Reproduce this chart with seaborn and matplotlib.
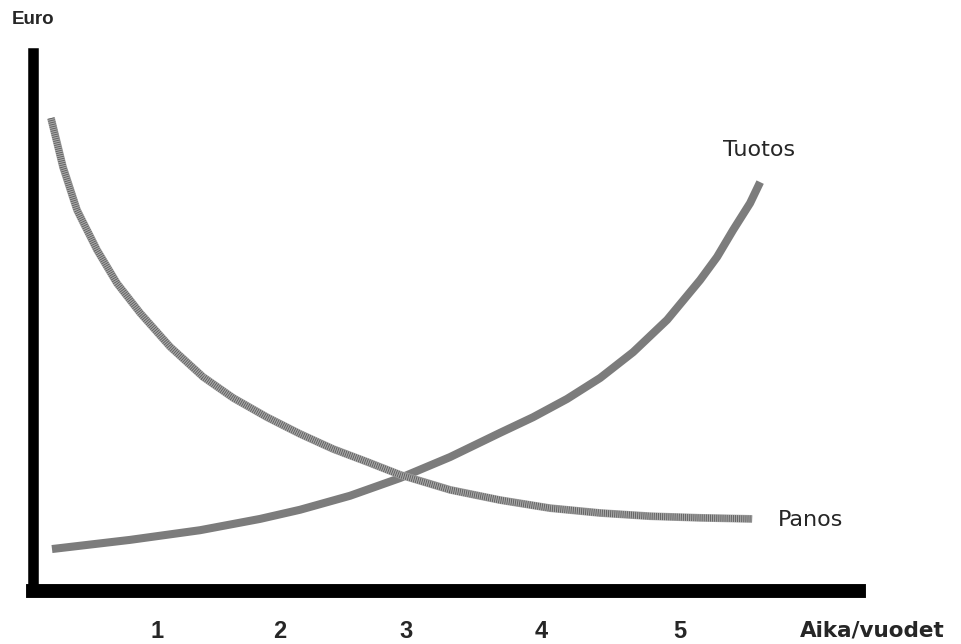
import pandas as pd
import seaborn as sns
import matplotlib.pyplot as plt

# Panos (input) curve: years vs euro (arbitrary 0-100 scale)
panos_x = [0.145, 0.242, 0.355, 0.516, 0.677, 0.863, 1.105, 1.371, 1.613, 1.887,
           2.153, 2.419, 2.694, 2.960, 3.363, 3.766, 4.169, 4.573, 4.976, 5.379, 5.798]
panos_y = [87.9, 78.8, 70.8, 63.4, 57.2, 51.7, 45.4, 39.8, 35.9, 32.3,
           29.2, 26.4, 24.0, 21.6, 18.8, 16.9, 15.4, 14.5, 13.9, 13.6, 13.4]

# Tuotos (output) curve
tuotos_x = [0.153, 0.782, 1.347, 1.831, 2.153, 2.556, 2.960, 3.363, 3.766, 4.032,
            4.306, 4.573, 4.839, 5.113, 5.379, 5.516, 5.645, 5.782, 5.863]
tuotos_y = [7.8, 9.5, 11.3, 13.4, 15.1, 17.7, 21.0, 24.9, 29.4, 32.3,
            35.7, 39.6, 44.4, 50.4, 57.8, 62.1, 67.1, 72.1, 76.0]

year_labels = ["1", "2", "3", "4", "5"]
year_pos = [1.0, 1.992, 3.008, 4.097, 5.218]

panos = pd.DataFrame({"Aika": panos_x, "Euro": panos_y})
tuotos = pd.DataFrame({"Aika": tuotos_x, "Euro": tuotos_y})

sns.set_style("white")
plt.rcParams['font.family'] = ['Liberation Sans', 'DejaVu Sans']
plt.rcParams['lines.scale_dashes'] = False

fig = plt.figure(figsize=(9.61, 6.44), dpi=100)
ax = fig.add_axes([33 / 961, 53 / 644, 826 / 961, 538 / 644])

# Tuotos: plain grey line
sns.lineplot(data=tuotos, x="Aika", y="Euro", sort=False, color="#7c7c7c",
             linewidth=5.8, ax=ax, solid_capstyle="butt", solid_joinstyle="round")

# Panos: grey line with a fine striped texture on top
sns.lineplot(data=panos, x="Aika", y="Euro", sort=False, color="#a8a8a8",
             linewidth=5.6, ax=ax, solid_capstyle="butt", solid_joinstyle="round")
sns.lineplot(data=panos, x="Aika", y="Euro", sort=False, color="#5a5a5a",
             linewidth=5.0, ax=ax)
ax.lines[-1].set_dashes((0.6, 0.9))
ax.lines[-1].set_dash_capstyle("butt")

ax.set_xlim(0, 6.66)
ax.set_ylim(0, 100)

for side in ["top", "right"]:
    ax.spines[side].set_visible(False)
ax.spines["left"].set_linewidth(7.6)
ax.spines["bottom"].set_linewidth(10)
for side in ["left", "bottom"]:
    ax.spines[side].set_color("black")
    ax.spines[side].set_capstyle("projecting")

ax.set_xticks(year_pos, year_labels)
ax.set_yticks([])
ax.tick_params(axis="x", length=0, pad=21, labelsize=17)
for lab in ax.get_xticklabels():
    lab.set_fontweight("bold")
ax.set_xlabel("")
ax.set_ylabel("")

fig.text(12 / 961, 1 - 20 / 644, "Euro", fontsize=13.5, fontweight="bold",
         va="center", ha="left")
fig.text(800 / 961, 1 - 630 / 644, "Aika/vuodet", fontsize=15.5, fontweight="bold",
         family="DejaVu Sans", va="center", ha="left")
fig.text(723 / 961, 1 - 150 / 644, "Tuotos", fontsize=16, family="DejaVu Sans",
         va="center", ha="left")
fig.text(778 / 961, 1 - 520 / 644, "Panos", fontsize=16, family="DejaVu Sans",
         va="center", ha="left")

fig.savefig("out.png", dpi=100)
